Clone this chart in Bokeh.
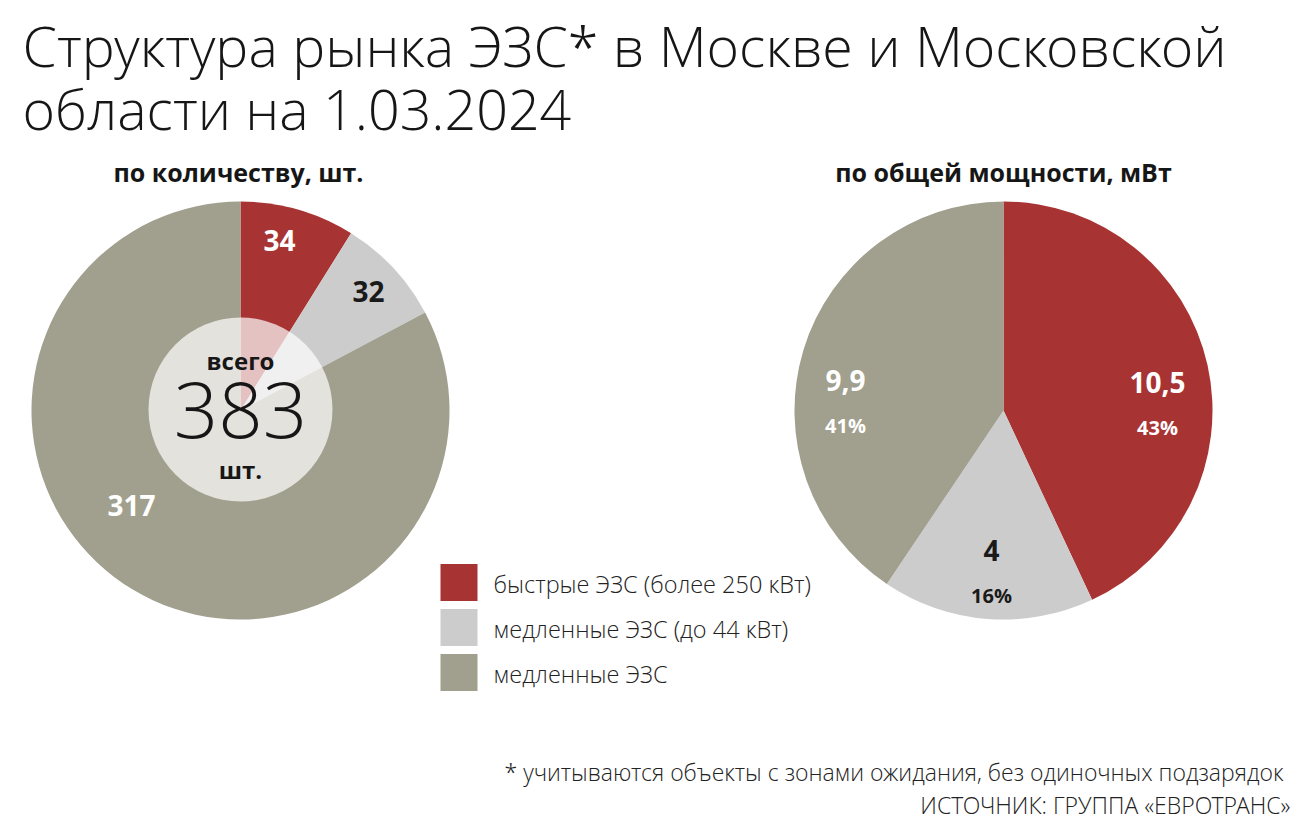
import math
from bokeh.plotting import figure
from bokeh.models import Range1d
from bokeh.core.properties import value
from bokeh.embed import file_html
from bokeh.resources import INLINE

W, H = 1316, 836

# ---- data ----
categories = ["быстрые ЭЗС (более 250 кВт)", "медленные ЭЗС (до 44 кВт)", "медленные ЭЗС"]
colors = ["#A83333", "#CCCCCC", "#A19F8D"]
count_values = [34, 32, 317]
count_labels = ["34", "32", "317"]
power_values = [10.5, 4.0, 9.9]
power_labels = ["10,5", "4", "9,9"]
power_pct = ["43%", "16%", "41%"]
total_label = "383"
title_lines = ["Структура рынка ЭЗС* в Москве и Московской", "области на 1.03.2024"]
subtitles = ["по количеству, шт.", "по общей мощности, мВт"]
footnotes = ["* учитываются объекты с зонами ожидания, без одиночных подзарядок",
             "ИСТОЧНИК: ГРУППА «ЕВРОТРАНС»"]

LIGHT = value("'Open Sans Light', 'Open Sans'")
FONT = value("Open Sans")
INK = "#161616"


def Y(y):
    return H - y


p = figure(width=W, height=H, x_range=Range1d(0, W), y_range=Range1d(0, H),
           output_backend="svg", toolbar_location=None, min_border=0)
p.axis.visible = False
p.grid.visible = False
p.outline_line_color = None
p.background_fill_color = "white"
p.border_fill_color = "white"


def pie(cx, cy, r, vals):
    tot = sum(vals)
    cum = 0.0
    starts, ends = [], []
    for v in vals:
        starts.append(math.pi / 2 - 2 * math.pi * cum / tot)
        cum += v
        ends.append(math.pi / 2 - 2 * math.pi * cum / tot)
    p.wedge(x=[cx] * len(vals), y=[Y(cy)] * len(vals), radius=r,
            start_angle=starts, end_angle=ends, direction="clock",
            fill_color=colors, line_color=None)


# left pie with translucent centre disc
pie(240, 410, 209, count_values)
p.circle(x=[240], y=[Y(409)], radius=92, fill_color="white", fill_alpha=0.7, line_color=None)

# right pie
pie(1003, 410, 209, power_values)

# title
p.text(x=[22, 22], y=[Y(45), Y(108)], text=title_lines,
       text_font=LIGHT, text_font_size="55.5px", text_color=INK,
       text_baseline="middle", text_align="left")

# subtitles
p.text(x=[238, 1003], y=[Y(171), Y(171)], text=subtitles,
       text_font=FONT, text_font_style="bold", text_font_size="25px",
       text_color=INK, text_baseline="middle", text_align="center")

# left labels
p.text(x=[279, 368, 131], y=[Y(240), Y(291), Y(505)], text=count_labels,
       text_font=FONT, text_font_style="bold", text_font_size="28px",
       text_color=["white", "#1a1a1a", "white"], text_baseline="middle", text_align="center")

# centre
p.text(x=[240], y=[Y(360)], text=["всего"], text_font=FONT, text_font_style="bold",
       text_font_size="24px", text_color=INK, text_baseline="middle", text_align="center")
p.text(x=[240], y=[Y(409)], text=[total_label], text_font=LIGHT, text_font_size="78px",
       text_color=INK, text_baseline="middle", text_align="center")
p.text(x=[240], y=[Y(469)], text=["шт."], text_font=FONT, text_font_style="bold",
       text_font_size="24px", text_color=INK, text_baseline="middle", text_align="center")

# right labels
rx = [1157, 991, 845]
ry = [382, 550, 380]
pc = ["white", "#1a1a1a", "white"]
p.text(x=rx, y=[Y(v) for v in ry], text=power_labels, text_font=FONT, text_font_style="bold",
       text_font_size="28px", text_color=pc, text_baseline="middle", text_align="center")
p.text(x=rx, y=[Y(v + 45) for v in ry], text=power_pct, text_font=FONT, text_font_style="bold",
       text_font_size="20px", text_color=pc, text_baseline="middle", text_align="center")

# legend
ly = [582, 627, 672]
p.rect(x=[458.5] * 3, y=[Y(v) for v in ly], width=37, height=37, fill_color=colors, line_color=None)
p.text(x=[493] * 3, y=[Y(v + 1) for v in ly], text=categories, text_font=LIGHT,
       text_font_size="23.5px", text_color="#222222", text_baseline="middle", text_align="left")

# footnotes
p.text(x=[1283, 1290], y=[Y(771), Y(804)], text=footnotes,
       text_font=LIGHT, text_font_size="23px", text_color="#222222",
       text_baseline="middle", text_align="right")

open("out.html", "w").write(file_html(p, INLINE))
